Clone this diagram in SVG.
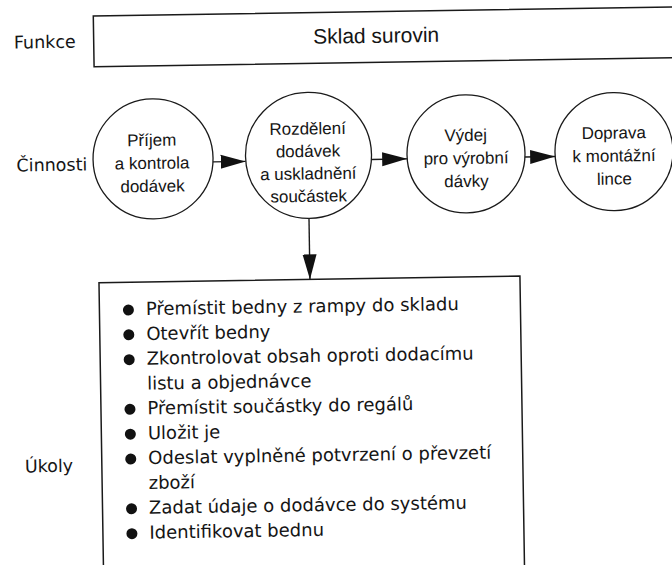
<svg xmlns="http://www.w3.org/2000/svg" width="672" height="565" viewBox="0 0 672 565">
<defs>
<style>
.lbl{font-family:"DejaVu Sans","Liberation Sans",sans-serif;font-size:17.5px;fill:#151515}
.ct{font-family:"Liberation Sans",Arial,sans-serif;font-size:17px;fill:#151515;text-anchor:middle}
.top{font-family:"Liberation Sans",Arial,sans-serif;font-size:21px;fill:#151515;text-anchor:middle}
.task{font-family:"DejaVu Sans","Liberation Sans",sans-serif;font-size:18px;fill:#151515}
.node{fill:#fff;stroke:#1a1a1a;stroke-width:1.3}
.box{fill:none;stroke:#1a1a1a;stroke-width:1.5}
.conn{fill:none;stroke:#1a1a1a;stroke-width:1.4}
.dot{fill:#111}
</style>
<marker id="ah" markerUnits="userSpaceOnUse" markerWidth="26" markerHeight="16" refX="25" refY="8" orient="auto">
<path d="M0,1 L25,8 L0,15 Z" fill="#111"/>
</marker>
</defs>
<rect width="672" height="565" fill="#fff"/>
<g transform="rotate(-0.9 336 282)">
<g id="labels">
<text class="lbl" x="17.7" y="43.5">Funkce</text>
<text class="lbl" x="18.4" y="166.5">Činnosti</text>
<text class="lbl" x="22" y="467.5">Úkoly</text>
</g>
<g id="funkce">
<path class="box" d="M700,12.2 H97.5 V63 H700"/>
<text class="top" x="380" y="43.5">Sklad surovin</text>
</g>
<g id="prijem">
<circle class="node" cx="155" cy="156" r="60"/>
<text class="ct" x="154" y="143">Příjem</text>
<text class="ct" x="154" y="166">a kontrola</text>
<text class="ct" x="154" y="189">dodávek</text>
</g>
<g id="rozdeleni">
<circle class="node" cx="310.5" cy="155" r="63"/>
<text class="ct" x="310" y="134">Rozdělení</text>
<text class="ct" x="310" y="156.5">dodávek</text>
<text class="ct" x="310" y="179">a uskladnění</text>
<text class="ct" x="310" y="201.5">součástek</text>
</g>
<g id="vydej">
<circle class="node" cx="468" cy="156" r="59"/>
<text class="ct" x="468" y="143">Výdej</text>
<text class="ct" x="468" y="166">pro výrobní</text>
<text class="ct" x="468" y="189">dávky</text>
</g>
<g id="doprava">
<circle class="node" cx="616" cy="156" r="59"/>
<text class="ct" x="616" y="143">Doprava</text>
<text class="ct" x="616" y="166">k montážní</text>
<text class="ct" x="616" y="189">lince</text>
</g>
<g id="ukoly">
<path class="box" d="M99,580 V279 H520 V580"/>
<g class="dot">
<circle cx="128" cy="306.7" r="5.5"/>
<circle cx="128" cy="331.5" r="5.5"/>
<circle cx="128" cy="356.4" r="5.5"/>
<circle cx="128" cy="406" r="5.5"/>
<circle cx="128" cy="430.9" r="5.5"/>
<circle cx="128" cy="455.8" r="5.5"/>
<circle cx="128" cy="505.5" r="5.5"/>
<circle cx="128" cy="530.4" r="5.5"/>
</g>
<text class="task" x="145.5" y="312">Přemístit bedny z rampy do skladu</text>
<text class="task" x="145.5" y="336.9">Otevřít bedny</text>
<text class="task" x="145.5" y="361.7">Zkontrolovat obsah oproti dodacímu</text>
<text class="task" x="145.5" y="386.6">listu a objednávce</text>
<text class="task" x="145.5" y="411.4">Přemístit součástky do regálů</text>
<text class="task" x="145.5" y="436.3">Uložit je</text>
<text class="task" x="145.5" y="461.1">Odeslat vyplněné potvrzení o převzetí</text>
<text class="task" x="145.5" y="486">zboží</text>
<text class="task" x="145.5" y="510.8">Zadat údaje o dodávce do systému</text>
<text class="task" x="145.5" y="535.7">Identifikovat bednu</text>
</g>
<g id="connectors">
<path class="conn" d="M214.9,160 L247.5,160" marker-end="url(#ah)"/>
<path class="conn" d="M373.3,160 L409.1,160" marker-end="url(#ah)"/>
<path class="conn" d="M526.9,160 L557.1,160" marker-end="url(#ah)"/>
<path class="conn" d="M310,218 L310,279" marker-end="url(#ah)"/>
</g>
</g>
</svg>
